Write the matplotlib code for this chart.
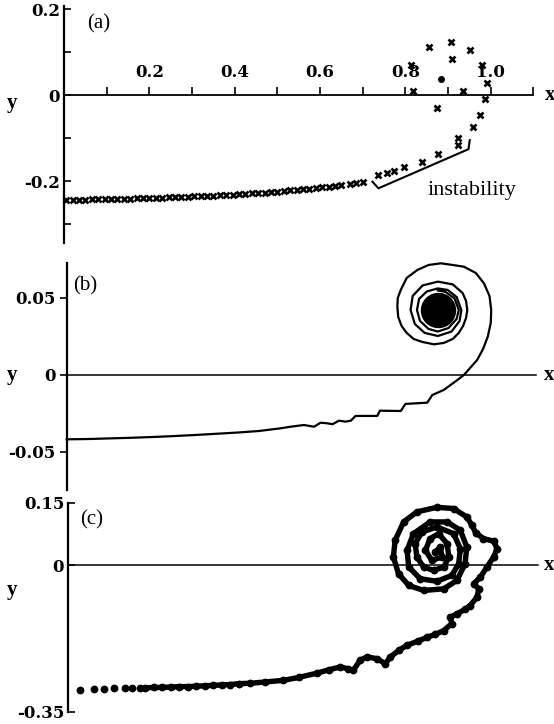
import matplotlib
matplotlib.use("Agg")
import matplotlib.pyplot as plt

plt.rcParams['font.family'] = 'DejaVu Serif'
plt.rcParams['font.weight'] = 'bold'

# ---- panel (a): stroboscopic points
a_x = [0.005, 0.02, 0.035, 0.05, 0.065, 0.08, 0.095, 0.11, 0.125, 0.14, 0.155, 0.17,
       0.185, 0.20, 0.215, 0.23, 0.245, 0.26, 0.275, 0.29, 0.305, 0.32, 0.335, 0.35,
       0.365, 0.38, 0.395, 0.41, 0.425, 0.44, 0.455, 0.47, 0.485, 0.50, 0.515, 0.53,
       0.545, 0.56, 0.575, 0.59, 0.605, 0.62, 0.635, 0.65, 0.67, 0.685, 0.70,
       0.737, 0.756, 0.773, 0.797, 0.838, 0.877, 0.924, 0.924, 0.958, 0.975, 0.987,
       0.992, 0.979, 0.951, 0.906, 0.855, 0.813, 0.819, 0.875, 0.936, 0.910]
a_y = [-0.243, -0.243, -0.243, -0.243, -0.242, -0.242, -0.242, -0.242, -0.241, -0.241,
       -0.241, -0.240, -0.240, -0.240, -0.239, -0.239, -0.238, -0.238, -0.237, -0.237,
       -0.236, -0.235, -0.235, -0.234, -0.233, -0.233, -0.232, -0.231, -0.230, -0.229,
       -0.228, -0.227, -0.226, -0.225, -0.224, -0.222, -0.221, -0.219, -0.218, -0.216,
       -0.214, -0.213, -0.211, -0.209, -0.206, -0.204, -0.202,
       -0.186, -0.181, -0.176, -0.167, -0.155, -0.137, -0.100, -0.116, -0.074, -0.047,
       -0.010, 0.029, 0.070, 0.105, 0.124, 0.112, 0.070, 0.010, -0.031, 0.010, 0.083]
a_fix_x = [0.883]
a_fix_y = [0.037]
a_bracket_x = [0.723, 0.737, 0.948, 0.951]
a_bracket_y = [-0.2016, -0.217, -0.126, -0.105]

# ---- panel (b): continuous trajectory
b_x = [0.0, 0.05, 0.10, 0.15, 0.20, 0.25, 0.30, 0.35, 0.40, 0.45, 0.50, 0.525, 0.556,
       0.580, 0.595, 0.611, 0.623, 0.638, 0.654, 0.666, 0.677, 0.728, 0.734, 0.783,
       0.794, 0.845, 0.857, 0.884, 0.916,
       0.931, 0.962, 0.976, 0.987, 0.994, 0.995, 0.991, 0.978, 0.959, 0.931, 0.905,
       0.877, 0.848, 0.822, 0.797, 0.783, 0.776, 0.775, 0.777, 0.785, 0.797, 0.813,
       0.834, 0.861, 0.884, 0.905, 0.919, 0.929, 0.936, 0.939, 0.936, 0.928, 0.905,
       0.870, 0.834, 0.811, 0.806,
       0.816, 0.839, 0.870, 0.902, 0.921, 0.925, 0.914, 0.893, 0.870, 0.844, 0.826,
       0.821, 0.828, 0.848, 0.870, 0.895, 0.914, 0.919, 0.909, 0.888, 0.870]
b_y = [-0.0418, -0.0416, -0.0412, -0.0408, -0.0403, -0.0397, -0.0390, -0.0382, -0.0374,
       -0.0364, -0.0347, -0.0336, -0.0325, -0.0336, -0.0310, -0.0314, -0.0320, -0.0297,
       -0.0303, -0.0297, -0.0266, -0.0266, -0.0232, -0.0234, -0.0188, -0.0180, -0.0130,
       -0.0097, -0.0032,
       0.0, 0.0097, 0.0169, 0.0249, 0.0338, 0.0422, 0.0513, 0.0595, 0.0662, 0.0703,
       0.0714, 0.0725, 0.0714, 0.0682, 0.0630, 0.0552, 0.0500, 0.0444, 0.0377, 0.0318,
       0.0273, 0.0234, 0.0214, 0.0199, 0.0208, 0.0234, 0.0273, 0.0318, 0.0370, 0.0422,
       0.0481, 0.0532, 0.0588, 0.0606, 0.0581, 0.0513, 0.0422,
       0.0331, 0.0273, 0.0253, 0.0282, 0.0351, 0.0422, 0.0506, 0.0552, 0.0562, 0.0542,
       0.0494, 0.0422, 0.0351, 0.0299, 0.0282, 0.0305, 0.0364, 0.0422, 0.0497, 0.0539,
       0.0549]
b_core_x = [0.870]
b_core_y = [0.0422]

# ---- panel (c): noisy trajectory (first points are isolated dots)
c_sparse = 7
c_x = [0.028, 0.061, 0.084, 0.106, 0.132, 0.150, 0.168,
       0.18, 0.20, 0.22, 0.24, 0.26, 0.28, 0.30, 0.32, 0.34, 0.36, 0.38, 0.40, 0.427,
       0.46, 0.504, 0.54, 0.582, 0.61, 0.637, 0.655, 0.668, 0.684, 0.700, 0.723, 0.743,
       0.755, 0.775, 0.794, 0.82, 0.841, 0.860, 0.880, 0.899, 0.895, 0.911, 0.930,
       0.942, 0.958, 0.962, 0.950, 0.966, 0.981, 0.997, 1.005, 0.997, 0.973, 0.955,
       0.946, 0.934, 0.903, 0.864, 0.817, 0.786, 0.766, 0.762, 0.774, 0.798, 0.833,
       0.880, 0.911, 0.930, 0.934, 0.919, 0.888, 0.848, 0.809, 0.794, 0.798, 0.825,
       0.864, 0.899, 0.915, 0.919, 0.903, 0.864, 0.829, 0.813, 0.817, 0.833, 0.856,
       0.880, 0.892, 0.888, 0.868, 0.848, 0.837, 0.852, 0.876, 0.872, 0.860]
c_y = [-0.297, -0.296, -0.295, -0.294, -0.294, -0.294, -0.293,
       -0.293, -0.292, -0.292, -0.291, -0.290, -0.290, -0.289, -0.288, -0.287, -0.286,
       -0.285, -0.283, -0.282, -0.279, -0.275, -0.268, -0.258, -0.250, -0.243, -0.247,
       -0.251, -0.227, -0.219, -0.223, -0.235, -0.219, -0.203, -0.191, -0.181, -0.172,
       -0.165, -0.156, -0.139, -0.124, -0.116, -0.105, -0.096, -0.076, -0.056, -0.044,
       -0.028, -0.004, 0.020, 0.040, 0.058, 0.064, 0.078, 0.096, 0.116, 0.136, 0.139,
       0.128, 0.104, 0.060, 0.020, -0.020, -0.048, -0.060, -0.056, -0.036, 0.004, 0.044,
       0.084, 0.104, 0.104, 0.076, 0.036, -0.004, -0.032, -0.038, -0.024, 0.004, 0.040,
       0.076, 0.092, 0.080, 0.052, 0.020, -0.004, -0.012, -0.004, 0.020, 0.052, 0.076,
       0.064, 0.036, 0.012, 0.020, 0.044, 0.032]

W, H = 554, 724
fig = plt.figure(figsize=(W / 100, H / 100), dpi=100)


def box(left, top, right, bottom):
    return [left / W, 1 - bottom / H, (right - left) / W, (bottom - top) / H]


def style(ax, ylim, yt, ylab, ydir):
    ax.set_xlim(0, 1.1)
    ax.set_ylim(*ylim)
    ax.patch.set_visible(False)
    for s in ('right', 'bottom', 'top'):
        ax.spines[s].set_visible(False)
    ax.spines['left'].set_linewidth(1.6)
    ax.set_yticks(yt)
    ax.set_yticklabels(ylab)
    ax.tick_params(axis='y', which='both', direction=ydir, length=5, width=1.2,
                   labelsize=12, pad=3)


serif = 'Liberation Serif'

# (a)
ax = fig.add_axes(box(64, 6, 533.3, 242.5))
style(ax, (-0.343, 0.207), [-0.2, 0, 0.2], ['-0.2', '0', '0.2'], 'in')
ax.set_yticks([-0.3, -0.1, 0.1], minor=True)
ax.spines['top'].set_visible(True)
ax.spines['top'].set_position(('data', 0))
ax.spines['top'].set_bounds(0, 1.1)
ax.spines['top'].set_linewidth(1.3)
ax.xaxis.set_ticks_position('top')
ax.set_xticks([0.2, 0.4, 0.6, 0.8, 1.0])
ax.set_xticklabels(['0.2', '0.4', '0.6', '0.8', '1.0'])
ax.set_xticks([0.1, 0.3, 0.5, 0.7, 0.9, 1.1], minor=True)
ax.tick_params(axis='x', which='both', direction='out', length=6, width=1.2,
               labelsize=12, pad=4)
ax.plot(a_x, a_y, ls='none', marker='x', ms=4.4, mew=1.9, color='k', clip_on=False)
ax.plot(a_fix_x, a_fix_y, ls='none', marker='o', ms=4, color='k')
ax.plot(a_bracket_x, a_bracket_y, color='k', lw=1.5)
ax.text(0.851, -0.2326, 'instability', family=serif, weight='normal', fontsize=16,
        ha='left', va='baseline')
ax.text(0.054, 0.165, '(a)', family=serif, weight='normal', fontsize=15,
        ha='left', va='center')
ax.text(1.127, 0, 'x', family=serif, fontsize=15, ha='left', va='center', clip_on=False)
fig.text(12 / W, 1 - 103 / H, 'y', family=serif, fontsize=15, ha='center', va='center')

# (b)
ax = fig.add_axes(box(66.7, 263, 536, 490))
style(ax, (-0.0747, 0.0727), [-0.05, 0, 0.05], ['-0.05', '0', '0.05'], 'out')
ax.spines['bottom'].set_visible(True)
ax.spines['bottom'].set_position(('data', 0))
ax.spines['bottom'].set_bounds(0, 1.1)
ax.spines['bottom'].set_linewidth(1.1)
ax.set_xticks([])
ax.plot(b_x, b_y, color='k', lw=1.6, solid_joinstyle='round', clip_on=False)
ax.plot(b_core_x, b_core_y, ls='none', marker='o', ms=24.5, color='k')
ax.text(0.015, 0.058, '(b)', family=serif, weight='normal', fontsize=15,
        ha='left', va='center')
ax.text(1.118, 0, 'x', family=serif, fontsize=15, ha='left', va='center', clip_on=False)
fig.text(12 / W, 1 - 375 / H, 'y', family=serif, fontsize=15, ha='center', va='center')

# (c)
ax = fig.add_axes(box(68.3, 502.7, 537.6, 711.7))
style(ax, (-0.35, 0.15), [-0.35, 0, 0.15], ['-0.35', '0', '0.15'], 'in')
ax.spines['bottom'].set_visible(True)
ax.spines['bottom'].set_position(('data', 0))
ax.spines['bottom'].set_bounds(0, 1.1)
ax.spines['bottom'].set_linewidth(1.1)
ax.set_xticks([])
ax.plot(c_x[c_sparse:], c_y[c_sparse:], color='k', lw=3.9, solid_joinstyle='round',
        solid_capstyle='round')
ax.plot(c_x, c_y, ls='none', marker='o', ms=4.6, color='k')
ax.text(0.027, 0.11, '(c)', family=serif, weight='normal', fontsize=15,
        ha='left', va='center')
ax.text(1.115, 0, 'x', family=serif, fontsize=15, ha='left', va='center', clip_on=False)
fig.text(12 / W, 1 - 590 / H, 'y', family=serif, fontsize=15, ha='center', va='center')

fig.savefig('out.png', dpi=100)
